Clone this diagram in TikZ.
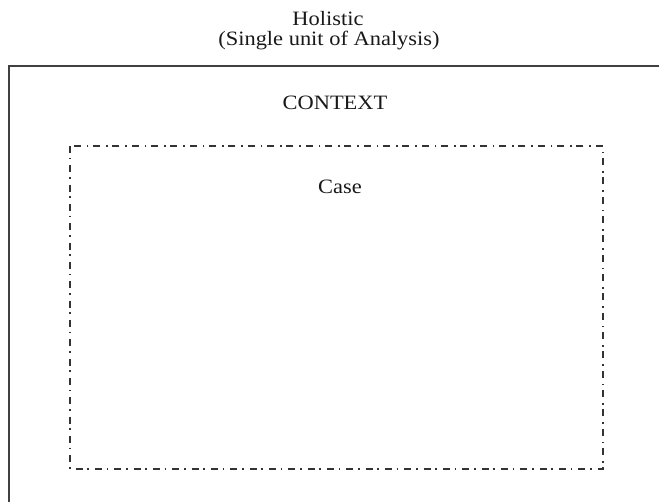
\documentclass[tikz,border=0pt]{standalone}
\usepackage{fontspec}
\setmainfont{Liberation Serif}
\newfontfamily\lblfont[FakeStretch=1.1]{Liberation Serif}
\begin{document}
\begin{tikzpicture}[x=0.75pt,y=-0.75pt,
  lbl/.style={font=\lblfont\fontsize{15.3}{15}\selectfont, text=black!90, inner sep=0pt, anchor=base},
  frame/.style={draw=black!75, line width=1.5pt},
  casebox/.style={draw=black!80, line width=1.4pt,
    dash pattern=on 5.2pt off 3.6pt on 1.1pt off 4.6pt}]
  \useasboundingbox (0,0) rectangle (659,502);
  % outer context frame (runs past the right and bottom edges)
  \draw[frame] (8.5,66) rectangle (700,560);
  % case boundary
  \draw[casebox] (70,146) rectangle (603,469);
  % labels
  \node[lbl] (title) at (328,26) {Holistic};
  \node[lbl] (subtitle) at (329,46) {(Single unit of Analysis)};
  \node[lbl] (context) at (335,110) {CONTEXT};
  \node[lbl] (case) at (340,194) {Case};
\end{tikzpicture}
\end{document}
